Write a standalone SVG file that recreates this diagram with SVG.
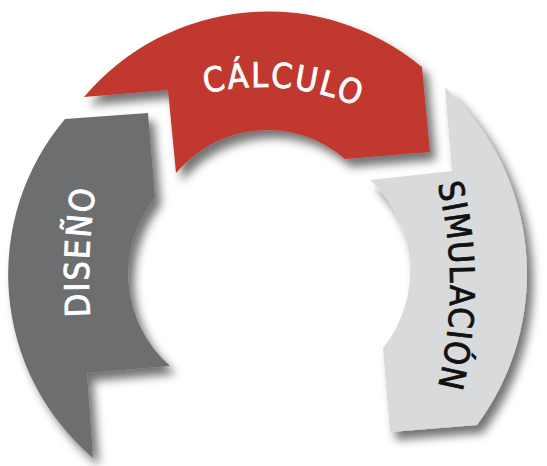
<svg xmlns="http://www.w3.org/2000/svg" width="547" height="466" viewBox="0 0 547 466">
  <defs>
    <filter id="sh" x="-20%" y="-20%" width="150%" height="150%">
      <feDropShadow dx="6" dy="8" stdDeviation="5" flood-color="#000" flood-opacity="0.55"/>
    </filter>
    <path id="p-diseno" d="M 91 330 A 600 600 0 0 1 98 175"/>
    <path id="p-calculo" d="M 139.5 119.8 A 245 245 0 0 1 419.5 144.3"/>
    <path id="p-simulacion" d="M 424.4 140.8 A 424.5 424.5 0 0 1 424.4 431.2"/>
    <style>
      .lbl { font-family: "DejaVu Sans Condensed", "DejaVu Sans", sans-serif; font-stretch: condensed; font-size: 34px; stroke-width: 0.8px; }
      .w { fill: #ffffff; stroke: #ffffff; }
      .k { fill: #111111; stroke: #111111; }
    </style>
  </defs>
  <rect width="547" height="466" fill="#ffffff"/>
  <g id="connectors"></g>
  <g id="diseno">
    <path filter="url(#sh)" fill="#6d6e70" d="M 65 119 L 148 113 L 155 197 A 123 123 0 0 0 170 366 L 87 373 L 93 458 A 241 241 0 0 1 65 119 Z"/>
    <text class="lbl w" letter-spacing="1.8"><textPath href="#p-diseno" startOffset="50%" text-anchor="middle">DISEÑO</textPath></text>
  </g>
  <g id="simulacion">
    <path filter="url(#sh)" fill="#d9dadb" d="M 445 87 A 254 254 0 0 1 477 425 L 390 432 L 383 348 A 123 123 0 0 0 370 180 L 452 171 Z"/>
    <text class="lbl k" letter-spacing="1.3"><textPath href="#p-simulacion" startOffset="50%" text-anchor="middle">SIMULACIÓN</textPath></text>
  </g>
  <g id="calculo">
    <path filter="url(#sh)" fill="#c0372f" d="M 84 97 A 241 241 0 0 1 422 67 L 430 152 L 345 159 A 118.5 118.5 0 0 0 176 173 L 168 90 Z"/>
    <text class="lbl w" letter-spacing="2"><textPath href="#p-calculo" startOffset="50%" text-anchor="middle">CÁLCULO</textPath></text>
  </g>
</svg>
